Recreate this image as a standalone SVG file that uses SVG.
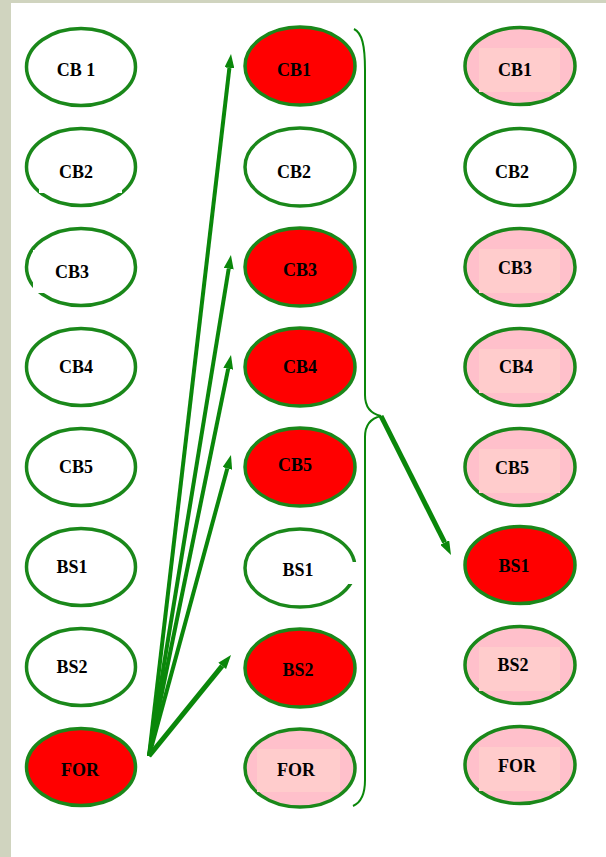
<svg xmlns="http://www.w3.org/2000/svg" width="606" height="857" viewBox="0 0 606 857">
<defs>
<style>
.n{stroke:#1a881a;stroke-width:3.5}
.w{fill:#ffffff}
.r{fill:#ff0000}
.p{fill:#ffc0cb}
.pi{fill:#ffcccc}
.t{font-family:"Liberation Serif","Times New Roman",serif;font-weight:bold;font-size:18px;fill:#000;text-anchor:middle}
.a{stroke:#0a870a;fill:none}
</style>
<marker id="ah" markerUnits="userSpaceOnUse" markerWidth="14" markerHeight="10" refX="0" refY="5" orient="auto">
<path d="M0,0 L14,5 L0,10 z" fill="#0a870a"/>
</marker>
</defs>
<rect x="0" y="0" width="606" height="857" fill="#ffffff"/>
<rect x="0" y="0" width="11" height="857" fill="#d0d4bf"/>
<rect x="0" y="0" width="606" height="3" fill="#d0d4bf"/>

<g id="c1-cb1"><ellipse class="n w" cx="81" cy="67" rx="54.5" ry="38.5"/><text class="t" x="76" y="76">CB 1</text></g>
<g id="c1-cb2"><ellipse class="n w" cx="81" cy="167" rx="54.5" ry="38.5"/><rect x="39" y="150" width="83" height="43" fill="#fff"/><text class="t" x="76" y="178">CB2</text></g>
<g id="c1-cb3"><ellipse class="n w" cx="81" cy="267" rx="54.5" ry="38.5"/><rect x="33" y="250" width="80" height="43" fill="#fff"/><text class="t" x="72" y="278">CB3</text></g>
<g id="c1-cb4"><ellipse class="n w" cx="81" cy="367" rx="54.5" ry="38.5"/><text class="t" x="76" y="373">CB4</text></g>
<g id="c1-cb5"><ellipse class="n w" cx="81" cy="467" rx="54.5" ry="38.5"/><text class="t" x="76" y="473">CB5</text></g>
<g id="c1-bs1"><ellipse class="n w" cx="81" cy="567" rx="54.5" ry="38.5"/><text class="t" x="72" y="573">BS1</text></g>
<g id="c1-bs2"><ellipse class="n w" cx="81" cy="667" rx="54.5" ry="38.5"/><text class="t" x="72" y="673">BS2</text></g>
<g id="c1-for"><ellipse class="n r" cx="81" cy="767" rx="54.5" ry="38.5"/><text class="t" x="80" y="776">FOR</text></g>

<g id="c2-cb1"><ellipse class="n r" cx="300" cy="66" rx="55" ry="39"/><text class="t" x="294" y="76">CB1</text></g>
<g id="c2-cb2"><ellipse class="n w" cx="300" cy="167" rx="55" ry="39"/><text class="t" x="294" y="178">CB2</text></g>
<g id="c2-cb3"><ellipse class="n r" cx="300" cy="267" rx="55" ry="39"/><text class="t" x="300" y="276">CB3</text></g>
<g id="c2-cb4"><ellipse class="n r" cx="300" cy="367" rx="55" ry="39"/><text class="t" x="300" y="373">CB4</text></g>
<g id="c2-cb5"><ellipse class="n r" cx="300" cy="467" rx="55" ry="39"/><text class="t" x="295" y="471">CB5</text></g>
<g id="c2-bs1"><ellipse class="n w" cx="300" cy="568" rx="55" ry="39"/><rect x="300" y="562" width="58" height="22" fill="#fff"/><text class="t" x="298" y="576">BS1</text></g>
<g id="c2-bs2"><ellipse class="n r" cx="300" cy="668" rx="55" ry="39"/><text class="t" x="298" y="676">BS2</text></g>
<g id="c2-for"><ellipse class="n p" cx="300" cy="768" rx="55" ry="39"/><rect class="pi" x="257" y="749" width="83" height="43"/><text class="t" x="296" y="776">FOR</text></g>

<g id="c3-cb1"><ellipse class="n p" cx="520" cy="66" rx="55" ry="38.5"/><rect class="pi" x="479" y="48" width="81" height="44"/><text class="t" x="515" y="76">CB1</text></g>
<g id="c3-cb2"><ellipse class="n w" cx="520" cy="167" rx="55" ry="38.5"/><text class="t" x="512" y="178">CB2</text></g>
<g id="c3-cb3"><ellipse class="n p" cx="520" cy="267" rx="55" ry="38.5"/><rect class="pi" x="479" y="249" width="81" height="44"/><text class="t" x="515" y="274">CB3</text></g>
<g id="c3-cb4"><ellipse class="n p" cx="520" cy="367" rx="55" ry="38.5"/><rect class="pi" x="479" y="349" width="81" height="44"/><text class="t" x="516" y="373">CB4</text></g>
<g id="c3-cb5"><ellipse class="n p" cx="520" cy="467" rx="55" ry="38.5"/><rect class="pi" x="479" y="449" width="81" height="44"/><text class="t" x="512" y="474">CB5</text></g>
<g id="c3-bs1"><ellipse class="n r" cx="520" cy="565" rx="55" ry="38.5"/><text class="t" x="514" y="572">BS1</text></g>
<g id="c3-bs2"><ellipse class="n p" cx="520" cy="665" rx="55" ry="38.5"/><rect class="pi" x="479" y="647" width="81" height="44"/><text class="t" x="513" y="671">BS2</text></g>
<g id="c3-for"><ellipse class="n p" cx="520" cy="765" rx="55" ry="38.5"/><rect class="pi" x="479" y="747" width="81" height="44"/><text class="t" x="517" y="772">FOR</text></g>

<g id="connectors">
<path class="a" stroke-width="2" d="M354,29 C362,33 365,45 365,70 L365,395 C365,408 372,414 381,416 C372,418 365,424 365,437 L365,780 C365,795 360,803 353,806"/>
<line class="a" stroke-width="4" x1="149" y1="756" x2="229.4" y2="67.9" marker-end="url(#ah)"/>
<line class="a" stroke-width="4" x1="149" y1="756" x2="228.7" y2="268.8" marker-end="url(#ah)"/>
<line class="a" stroke-width="4" x1="149" y1="756" x2="228.2" y2="368.7" marker-end="url(#ah)"/>
<line class="a" stroke-width="4" x1="149" y1="756" x2="227.3" y2="468.5" marker-end="url(#ah)"/>
<line class="a" stroke-width="5" x1="149" y1="756" x2="222.2" y2="665.9" marker-end="url(#ah)"/>
<line class="a" stroke-width="5" x1="381" y1="416" x2="444.7" y2="542.5" marker-end="url(#ah)"/>
</g>
</svg>
